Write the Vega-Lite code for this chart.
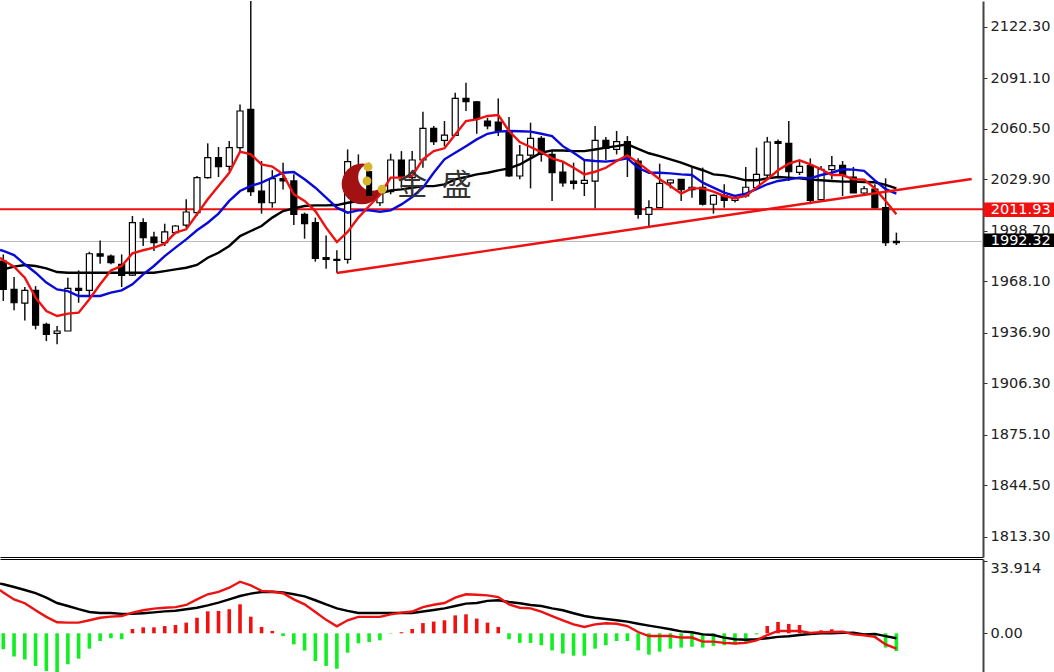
{"$schema":"https://vega.github.io/schema/vega-lite/v6.json","padding":{"left":-5,"top":0,"right":0,"bottom":0},"background":"white","spacing":2,"config":{"view":{"stroke":null},"axis":{"grid":false},"concat":{"spacing":2}},
"datasets":{
"candles":[
{"i":0,"o":1980.5,"h":1984.5,"l":1956.3,"c":1963.3},{"i":1,"o":1963.3,"h":1970.8,"l":1950.6,"c":1955.2},{"i":2,"o":1955.0,"h":1964.7,"l":1944.5,"c":1962.7},{"i":3,"o":1962.7,"h":1965.3,"l":1939.1,"c":1941.7},{"i":4,"o":1942.1,"h":1943.1,"l":1932.0,"c":1936.0},{"i":5,"o":1936.7,"h":1941.1,"l":1930.0,"c":1938.1},{"i":6,"o":1938.1,"h":1970.4,"l":1938.1,"c":1963.9},{"i":7,"o":1963.9,"h":1974.8,"l":1955.2,"c":1962.7},{"i":8,"o":1962.7,"h":1986.1,"l":1958.3,"c":1984.9},{"i":9,"o":1984.9,"h":1993.0,"l":1978.9,"c":1983.5},
{"i":10,"o":1983.5,"h":1984.5,"l":1978.5,"c":1979.5},{"i":11,"o":1978.5,"h":1984.5,"l":1964.7,"c":1971.8},{"i":12,"o":1972.0,"h":2007.8,"l":1971.4,"c":2003.7},{"i":13,"o":2003.7,"h":2006.4,"l":1989.6,"c":1994.6},{"i":14,"o":1995.0,"h":1998.3,"l":1986.6,"c":1991.6},{"i":15,"o":1991.6,"h":2003.1,"l":1989.6,"c":1998.1},{"i":16,"o":1997.7,"h":2002.3,"l":1996.7,"c":2001.7},{"i":17,"o":2002.3,"h":2017.9,"l":2000.7,"c":2010.2},{"i":18,"o":2009.8,"h":2032.0,"l":2007.8,"c":2031.0},{"i":19,"o":2031.0,"h":2051.8,"l":2030.4,"c":2043.1},
{"i":20,"o":2043.1,"h":2049.6,"l":2031.4,"c":2037.7},{"i":21,"o":2037.9,"h":2053.2,"l":2035.0,"c":2049.2},{"i":22,"o":2049.2,"h":2075.4,"l":2047.1,"c":2071.4},{"i":23,"o":2072.4,"h":2138.0,"l":2019.9,"c":2022.5},{"i":24,"o":2022.9,"h":2041.1,"l":2009.2,"c":2015.8},{"i":25,"o":2015.8,"h":2035.6,"l":2012.8,"c":2030.4},{"i":26,"o":2030.4,"h":2040.1,"l":2023.9,"c":2029.0},{"i":27,"o":2029.0,"h":2033.0,"l":2002.3,"c":2008.8},{"i":28,"o":2008.8,"h":2009.8,"l":1994.0,"c":2003.1},{"i":29,"o":2003.7,"h":2006.8,"l":1980.1,"c":1982.1},
{"i":30,"o":1982.5,"h":1996.0,"l":1975.8,"c":1981.5},{"i":31,"o":1981.5,"h":1987.0,"l":1973.4,"c":1980.9},{"i":32,"o":1981.5,"h":2048.1,"l":1978.9,"c":2040.7},{"i":33,"o":2036.4,"h":2045.1,"l":2026.9,"c":2035.0},{"i":34,"o":2035.0,"h":2040.0,"l":2017.9,"c":2019.9},{"i":35,"o":2015.8,"h":2026.9,"l":2013.8,"c":2025.9},{"i":36,"o":2022.5,"h":2045.5,"l":2020.9,"c":2041.7},{"i":37,"o":2041.7,"h":2047.1,"l":2024.9,"c":2031.4},{"i":38,"o":2031.0,"h":2047.1,"l":2028.9,"c":2041.7},{"i":39,"o":2041.7,"h":2071.0,"l":2037.0,"c":2060.9},
{"i":40,"o":2060.9,"h":2062.3,"l":2050.8,"c":2052.8},{"i":41,"o":2053.6,"h":2065.3,"l":2050.1,"c":2056.8},{"i":42,"o":2056.6,"h":2082.5,"l":2056.2,"c":2079.0},{"i":43,"o":2079.0,"h":2088.5,"l":2071.4,"c":2077.0},{"i":44,"o":2077.0,"h":2077.4,"l":2057.6,"c":2066.7},{"i":45,"o":2065.3,"h":2067.3,"l":2060.3,"c":2062.3},{"i":46,"o":2064.7,"h":2079.0,"l":2056.2,"c":2059.3},{"i":47,"o":2059.3,"h":2067.8,"l":2031.4,"c":2032.0},{"i":48,"o":2032.0,"h":2050.8,"l":2030.0,"c":2044.7},{"i":49,"o":2044.7,"h":2064.3,"l":2024.5,"c":2054.8},
{"i":50,"o":2054.8,"h":2056.2,"l":2040.7,"c":2045.1},{"i":51,"o":2045.1,"h":2047.1,"l":2016.8,"c":2034.0},{"i":52,"o":2034.4,"h":2041.1,"l":2025.5,"c":2027.9},{"i":53,"o":2028.9,"h":2040.1,"l":2023.9,"c":2027.5},{"i":54,"o":2027.5,"h":2042.1,"l":2019.9,"c":2029.3},{"i":55,"o":2028.9,"h":2062.3,"l":2012.4,"c":2053.6},{"i":56,"o":2053.6,"h":2055.6,"l":2041.5,"c":2048.8},{"i":57,"o":2048.1,"h":2059.3,"l":2045.1,"c":2052.8},{"i":58,"o":2052.8,"h":2056.2,"l":2031.4,"c":2042.7},{"i":59,"o":2041.1,"h":2042.7,"l":2006.1,"c":2008.8},
{"i":60,"o":2008.8,"h":2017.3,"l":2001.7,"c":2012.8},{"i":61,"o":2012.8,"h":2039.5,"l":2012.8,"c":2027.6},{"i":62,"o":2027.8,"h":2030.0,"l":2024.5,"c":2029.6},{"i":63,"o":2030.0,"h":2030.0,"l":2016.9,"c":2023.7},{"i":64,"o":2023.7,"h":2037.5,"l":2018.9,"c":2025.2},{"i":65,"o":2025.2,"h":2037.1,"l":2014.1,"c":2014.9},{"i":66,"o":2014.9,"h":2020.9,"l":2009.2,"c":2020.3},{"i":67,"o":2020.1,"h":2027.0,"l":2012.8,"c":2017.3},{"i":68,"o":2017.3,"h":2019.9,"l":2015.9,"c":2018.7},{"i":69,"o":2019.9,"h":2037.5,"l":2018.9,"c":2025.2},
{"i":70,"o":2025.0,"h":2049.2,"l":2024.0,"c":2033.0},{"i":71,"o":2032.6,"h":2055.7,"l":2031.0,"c":2052.6},{"i":72,"o":2052.8,"h":2054.2,"l":2032.0,"c":2051.8},{"i":73,"o":2051.8,"h":2065.3,"l":2029.0,"c":2034.6},{"i":74,"o":2034.2,"h":2041.5,"l":2032.6,"c":2037.9},{"i":75,"o":2038.3,"h":2042.7,"l":2014.9,"c":2017.3},{"i":76,"o":2017.7,"h":2038.1,"l":2017.3,"c":2036.1},{"i":77,"o":2035.9,"h":2044.1,"l":2030.0,"c":2038.3},{"i":78,"o":2038.5,"h":2041.1,"l":2019.9,"c":2032.6},{"i":79,"o":2031.4,"h":2037.5,"l":2021.7,"c":2021.7},
{"i":80,"o":2021.7,"h":2026.0,"l":2020.5,"c":2024.3},{"i":81,"o":2024.0,"h":2027.0,"l":2012.4,"c":2012.8},{"i":82,"o":2012.8,"h":2030.6,"l":1989.6,"c":1991.6},{"i":83,"o":1992.4,"h":1997.7,"l":1990.2,"c":1991.6}],
"ma":[
{"i":-0.307,"r":1982.5,"b":1987.2,"k":1974.4},{"i":0,"r":1980.9,"b":1986.6,"k":1975.4},{"i":1,"r":1977.1,"b":1984.1,"k":1977.1},{"i":2,"r":1970.4,"b":1978.5,"k":1978.1},{"i":3,"r":1958.3,"b":1973.4,"k":1977.5},{"i":4,"r":1950.2,"b":1967.4,"k":1976.0},{"i":5,"r":1947.2,"b":1963.3,"k":1973.8},{"i":6,"r":1948.6,"b":1962.3,"k":1973.4},{"i":7,"r":1949.2,"b":1959.3,"k":1973.4},{"i":8,"r":1957.3,"b":1959.3,"k":1973.4},{"i":9,"r":1966.4,"b":1959.3,"k":1973.4},
{"i":10,"r":1974.8,"b":1961.3,"k":1973.4},{"i":11,"r":1977.5,"b":1962.7,"k":1973.4},{"i":12,"r":1985.1,"b":1966.4,"k":1973.4},{"i":13,"r":1987.0,"b":1972.4,"k":1973.4},{"i":14,"r":1988.6,"b":1977.5,"k":1973.4},{"i":15,"r":1991.0,"b":1983.5,"k":1974.4},{"i":16,"r":1997.7,"b":1988.6,"k":1975.4},{"i":17,"r":1999.7,"b":1993.6,"k":1976.4},{"i":18,"r":2008.8,"b":1999.1,"k":1978.1},{"i":19,"r":2017.9,"b":2003.7,"k":1982.5},
{"i":20,"r":2026.0,"b":2009.2,"k":1985.5},{"i":21,"r":2034.0,"b":2016.9,"k":1989.6},{"i":22,"r":2046.8,"b":2022.9,"k":1995.6},{"i":23,"r":2045.1,"b":2026.0,"k":1998.7},{"i":24,"r":2039.1,"b":2028.0,"k":2001.7},{"i":25,"r":2037.7,"b":2031.0,"k":2006.8},{"i":26,"r":2033.0,"b":2034.0,"k":2010.8},{"i":27,"r":2020.9,"b":2034.4,"k":2012.4},{"i":28,"r":2016.9,"b":2030.0,"k":2013.8},{"i":29,"r":2010.8,"b":2024.9,"k":2014.2},
{"i":30,"r":2000.7,"b":2018.9,"k":2014.2},{"i":31,"r":1992.0,"b":2012.8,"k":2014.4},{"i":32,"r":1998.1,"b":2009.8,"k":2015.8},{"i":33,"r":2006.8,"b":2011.2,"k":2016.8},{"i":34,"r":2013.8,"b":2011.2,"k":2018.9},{"i":35,"r":2020.5,"b":2010.4,"k":2021.3},{"i":36,"r":2031.0,"b":2011.2,"k":2023.3},{"i":37,"r":2031.0,"b":2014.8,"k":2023.9},{"i":38,"r":2032.0,"b":2019.3,"k":2024.9},{"i":39,"r":2042.1,"b":2024.9,"k":2025.9},
{"i":40,"r":2047.1,"b":2034.0,"k":2025.9},{"i":41,"r":2048.8,"b":2042.1,"k":2026.9},{"i":42,"r":2057.2,"b":2046.1,"k":2030.0},{"i":43,"r":2065.3,"b":2050.1,"k":2031.4},{"i":44,"r":2066.3,"b":2054.2,"k":2033.0},{"i":45,"r":2068.4,"b":2057.6,"k":2034.0},{"i":46,"r":2069.0,"b":2058.9,"k":2035.4},{"i":47,"r":2059.3,"b":2059.3,"k":2036.6},{"i":48,"r":2052.6,"b":2059.1,"k":2039.0},{"i":49,"r":2049.6,"b":2058.9,"k":2042.7},
{"i":50,"r":2046.5,"b":2057.6,"k":2046.1},{"i":51,"r":2042.7,"b":2056.2,"k":2047.5},{"i":52,"r":2040.7,"b":2050.1,"k":2047.5},{"i":53,"r":2037.0,"b":2046.1,"k":2047.1},{"i":54,"r":2033.0,"b":2041.7,"k":2047.1},{"i":55,"r":2034.6,"b":2041.1,"k":2048.1},{"i":56,"r":2037.0,"b":2040.7,"k":2049.2},{"i":57,"r":2041.1,"b":2041.5,"k":2050.1},{"i":58,"r":2044.5,"b":2042.7,"k":2051.2},{"i":59,"r":2040.1,"b":2037.0,"k":2048.5},
{"i":60,"r":2035.0,"b":2034.0,"k":2045.8},{"i":61,"r":2030.0,"b":2034.0,"k":2044.1},{"i":62,"r":2026.0,"b":2033.6,"k":2042.1},{"i":63,"r":2021.3,"b":2033.0,"k":2040.1},{"i":64,"r":2024.5,"b":2032.6,"k":2037.7},{"i":65,"r":2024.5,"b":2028.0,"k":2035.5},{"i":66,"r":2022.5,"b":2025.0,"k":2033.0},{"i":67,"r":2019.9,"b":2021.9,"k":2032.4},{"i":68,"r":2018.5,"b":2019.9,"k":2031.0},{"i":69,"r":2019.9,"b":2021.3,"k":2029.4},
{"i":70,"r":2025.0,"b":2024.0,"k":2029.4},{"i":71,"r":2030.0,"b":2027.0,"k":2030.6},{"i":72,"r":2035.5,"b":2029.0,"k":2031.4},{"i":73,"r":2039.5,"b":2030.0,"k":2031.0},{"i":74,"r":2041.5,"b":2031.0,"k":2030.6},{"i":75,"r":2039.1,"b":2030.6,"k":2029.8},{"i":76,"r":2036.1,"b":2032.6,"k":2029.4},{"i":77,"r":2032.6,"b":2034.0,"k":2029.0},{"i":78,"r":2032.6,"b":2036.1,"k":2028.6},{"i":79,"r":2030.0,"b":2035.9,"k":2028.6},
{"i":80,"r":2029.8,"b":2035.1,"k":2028.4},{"i":81,"r":2024.5,"b":2029.4,"k":2028.2},{"i":82,"r":2016.9,"b":2024.0,"k":2026.6},{"i":83,"r":2008.8,"b":2021.3,"k":2024.5}],
"hist":[
{"i":0,"h":-7.5},{"i":1,"h":-10.9},{"i":2,"h":-12.3},{"i":3,"h":-15.3},{"i":4,"h":-17.7},{"i":5,"h":-18.6},{"i":6,"h":-14.5},{"i":7,"h":-11.9},{"i":8,"h":-7.2},{"i":9,"h":-3.6},{"i":10,"h":-2.3},{"i":11,"h":-2.8},{"i":12,"h":2.0},{"i":13,"h":2.8},{"i":14,"h":2.8},{"i":15,"h":3.4},{"i":16,"h":3.9},{"i":17,"h":5.0},{"i":18,"h":7.3},{"i":19,"h":10.3},{"i":20,"h":10.5},{"i":21,"h":11.3},{"i":22,"h":13.6},{"i":23,"h":7.8},{"i":24,"h":3.0},{"i":25,"h":1.1},{"i":26,"h":-1.3},{"i":27,"h":-5.2},{"i":28,"h":-8.1},{"i":29,"h":-13.0},{"i":30,"h":-15.3},{"i":31,"h":-16.6},{"i":32,"h":-9.1},{"i":33,"h":-4.7},{"i":34,"h":-4.1},{"i":35,"h":-3.3},{"i":36,"h":-0.2},{"i":37,"h":0.5},{"i":38,"h":2.0},{"i":39,"h":4.8},{"i":40,"h":5.5},{"i":41,"h":6.1},{"i":42,"h":8.4},{"i":43,"h":8.9},{"i":44,"h":6.9},{"i":45,"h":5.0},{"i":46,"h":3.0},{"i":47,"h":-2.8},{"i":48,"h":-4.5},{"i":49,"h":-4.5},{"i":50,"h":-5.6},{"i":51,"h":-8.0},{"i":52,"h":-9.5},{"i":53,"h":-10.5},{"i":54,"h":-10.5},{"i":55,"h":-7.2},{"i":56,"h":-5.6},{"i":57,"h":-3.6},{"i":58,"h":-3.6},{"i":59,"h":-8.0},{"i":60,"h":-10.0},{"i":61,"h":-8.6},{"i":62,"h":-7.2},{"i":63,"h":-6.7},{"i":64,"h":-6.3},{"i":65,"h":-6.7},{"i":66,"h":-5.9},{"i":67,"h":-5.6},{"i":68,"h":-5.2},{"i":69,"h":-4.4},{"i":70,"h":-0.5},{"i":71,"h":3.4},{"i":72,"h":5.3},{"i":73,"h":4.4},{"i":74,"h":3.9},{"i":75,"h":0.6},{"i":76,"h":1.4},{"i":77,"h":1.9},{"i":78,"h":1.1},{"i":79,"h":-0.3},{"i":80,"h":-0.8},{"i":81,"h":-1.7},{"i":82,"h":-6.7},{"i":83,"h":-8.3}],
"macd":[
{"i":-0.307,"r":20.3,"k":23.3},{"i":0,"r":19.1,"k":23.0},{"i":1,"r":15.9,"k":21.7},{"i":2,"r":14.1,"k":20.3},{"i":3,"r":10.8,"k":18.8},{"i":4,"r":7.7,"k":16.7},{"i":5,"r":5.2,"k":14.2},{"i":6,"r":5.0,"k":12.8},{"i":7,"r":5.0,"k":11.3},{"i":8,"r":6.1,"k":10.0},{"i":9,"r":7.3,"k":9.5},{"i":10,"r":7.8,"k":9.5},{"i":11,"r":8.1,"k":9.1},{"i":12,"r":9.7,"k":9.1},{"i":13,"r":10.8,"k":9.4},{"i":14,"r":11.6,"k":9.8},{"i":15,"r":12.0,"k":10.3},{"i":16,"r":12.3,"k":10.6},{"i":17,"r":13.3,"k":11.3},{"i":18,"r":15.9,"k":12.0},{"i":19,"r":18.3,"k":13.1},{"i":20,"r":19.4,"k":14.4},{"i":21,"r":21.4,"k":15.9},{"i":22,"r":24.2,"k":17.5},{"i":23,"r":22.5,"k":18.6},{"i":24,"r":19.9,"k":19.4},{"i":25,"r":19.5,"k":19.5},{"i":26,"r":18.8,"k":19.2},{"i":27,"r":15.9,"k":18.3},{"i":28,"r":13.6,"k":17.3},{"i":29,"r":10.0,"k":15.5},{"i":30,"r":6.3,"k":13.6},{"i":31,"r":3.3,"k":11.7},{"i":32,"r":6.1,"k":10.5},{"i":33,"r":7.7,"k":9.5},{"i":34,"r":7.7,"k":9.5},{"i":35,"r":7.7,"k":9.5},{"i":36,"r":8.9,"k":9.5},{"i":37,"r":9.7,"k":9.5},{"i":38,"r":10.2,"k":9.5},{"i":39,"r":12.3,"k":10.2},{"i":40,"r":13.4,"k":10.9},{"i":41,"r":14.2,"k":11.7},{"i":42,"r":16.7,"k":12.8},{"i":43,"r":18.3,"k":13.9},{"i":44,"r":18.1,"k":14.2},{"i":45,"r":17.8,"k":15.2},{"i":46,"r":17.0,"k":15.5},{"i":47,"r":13.6,"k":14.7},{"i":48,"r":12.0,"k":14.1},{"i":49,"r":11.7,"k":13.3},{"i":50,"r":10.2,"k":12.8},{"i":51,"r":8.1,"k":11.7},{"i":52,"r":6.1,"k":10.8},{"i":53,"r":4.2,"k":9.4},{"i":54,"r":3.0,"k":8.1},{"i":55,"r":4.2,"k":7.3},{"i":56,"r":4.7,"k":6.7},{"i":57,"r":4.5,"k":6.1},{"i":58,"r":3.4,"k":5.5},{"i":59,"r":0.6,"k":4.5},{"i":60,"r":-1.3,"k":3.6},{"i":61,"r":-1.3,"k":2.8},{"i":62,"r":-1.3,"k":1.9},{"i":63,"r":-2.0,"k":0.9},{"i":64,"r":-2.0,"k":0.5},{"i":65,"r":-3.9,"k":-0.5},{"i":66,"r":-3.9,"k":-0.8},{"i":67,"r":-4.5,"k":-2.0},{"i":68,"r":-4.8,"k":-2.8},{"i":69,"r":-4.5,"k":-3.0},{"i":70,"r":-3.3,"k":-2.8},{"i":71,"r":-0.8,"k":-2.3},{"i":72,"r":1.1,"k":-1.7},{"i":73,"r":1.1,"k":-1.4},{"i":74,"r":1.1,"k":-0.8},{"i":75,"r":0.2,"k":-0.3},{"i":76,"r":0.5,"k":0.0},{"i":77,"r":0.6,"k":0.0},{"i":78,"r":0.8,"k":0.2},{"i":79,"r":-0.5,"k":0.3},{"i":80,"r":-0.9,"k":-0.5},{"i":81,"r":-1.7,"k":-0.3},{"i":82,"r":-5.2,"k":-1.3},{"i":83,"r":-7.2,"k":-2.3}]
},
"vconcat":[
{"width":983,"height":556,
"encoding":{"x":{"field":"i","type":"quantitative","scale":{"domain":[-0.307,91.05],"nice":false,"zero":false,"padding":0},"axis":{"orient":"bottom","domain":true,"domainColor":"#000","domainWidth":1,"ticks":false,"labels":false,"title":null,"grid":false}}},
"layer":[
{"data":{"values":[{"p":1992.32}]},"mark":{"type":"rule","color":"#bbbbbb","strokeWidth":1},"encoding":{"x":null,"y":{"field":"p","type":"quantitative","scale":{"domain":[1801.15,2138.05],"nice":false,"zero":false,"padding":0},"axis":{"orient":"right","title":null,"values":[2122.3,2091.1,2060.5,2029.9,1998.7,1968.1,1936.9,1906.3,1875.1,1844.5,1813.3],"format":".2f","domain":true,"domainColor":"#444","domainWidth":2,"tickColor":"#333","tickSize":4,"labelPadding":3,"labelFont":"DejaVu Sans","labelFontSize":14.5,"labelColor":"#222","labelFlush":false}}}},
{"data":{"values":[{"p":2011.93}]},"mark":{"type":"rule","color":"#ee1111","strokeWidth":2},"encoding":{"x":null,"y":{"field":"p","type":"quantitative"}}},
{"data":{"name":"candles"},"mark":{"type":"rule","color":"#111","strokeWidth":1.5},"encoding":{"y":{"field":"h","type":"quantitative"},"y2":{"field":"l"}}},
{"data":{"name":"candles"},"mark":{"type":"bar","size":6,"orient":"vertical","stroke":"#000","strokeWidth":1.2},"encoding":{"y":{"field":"o","type":"quantitative"},"y2":{"field":"c"},"fill":{"condition":{"test":"datum.c>=datum.o","value":"#ffffff"},"value":"#000000"}}},
{"data":{"name":"ma"},"mark":{"type":"line","color":"#000","strokeWidth":2.4},"encoding":{"y":{"field":"k","type":"quantitative"}}},
{"data":{"name":"ma"},"mark":{"type":"line","color":"#0a0ad8","strokeWidth":2.4},"encoding":{"y":{"field":"b","type":"quantitative"}}},
{"data":{"name":"ma"},"mark":{"type":"line","color":"#ee1111","strokeWidth":2.4},"encoding":{"y":{"field":"r","type":"quantitative"}}},
{"data":{"values":[{"i":31,"p":1973.2},{"i":90,"p":2030.2}]},"mark":{"type":"line","color":"#ee1111","strokeWidth":2.4},"encoding":{"y":{"field":"p","type":"quantitative"}}},
{"data":{"values":[{"i":33.34,"p":2027.2}]},"mark":{"type":"point","filled":true,"opacity":1,"color":"#a31212","size":1660},"encoding":{"y":{"field":"p","type":"quantitative"}}},
{"data":{"values":[{"i":34.26,"p":2031.4}]},"mark":{"type":"point","filled":true,"opacity":1,"color":"#ffffff","size":760},"encoding":{"y":{"field":"p","type":"quantitative"}}},
{"data":{"name":"candles"},"transform":[{"filter":"datum.i==34"}],"mark":{"type":"bar","size":6,"orient":"vertical","color":"#000"},"encoding":{"y":{"field":"o","type":"quantitative"},"y2":{"field":"c"}}},
{"data":{"values":[{"i":33.8,"p":2029.0},{"i":33.9,"p":2037.5},{"i":35.2,"p":2024.0}]},"mark":{"type":"point","filled":true,"opacity":1,"color":"#d8b52a","size":80},"encoding":{"y":{"field":"p","type":"quantitative"}}},
{"data":{"values":[{"i":38,"p":2026,"t":"金"},{"i":42.15,"p":2026,"t":"盛"}]},"mark":{"type":"text","font":"Noto Sans CJK SC","fontSize":30,"color":"#333333"},"encoding":{"y":{"field":"p","type":"quantitative"},"text":{"field":"t"}}},
{"data":{"values":[{"i":91.1,"i2":97.7,"p":2015.9,"p2":2007.2,"f":"red"},{"i":91.1,"i2":97.7,"p":1997.1,"p2":1989.0,"f":"black"}]},"mark":{"type":"rect"},"encoding":{"x2":{"field":"i2"},"y":{"field":"p","type":"quantitative"},"y2":{"field":"p2"},"fill":{"condition":{"test":"datum.f=='red'","value":"#f01010"},"value":"#000000"}}},
{"data":{"values":[{"i":94.55,"p":2011.6,"t":"2011.93"},{"i":94.55,"p":1992.6,"t":"1992.32"}]},"mark":{"type":"text","font":"DejaVu Sans","fontSize":14.5,"color":"#ffffff"},"encoding":{"y":{"field":"p","type":"quantitative"},"text":{"field":"t"}}}
]},
{"width":983,"height":114,
"encoding":{"x":{"field":"i","type":"quantitative","scale":{"domain":[-0.307,91.05],"nice":false,"zero":false,"padding":0},"axis":{"orient":"top","domain":true,"domainColor":"#000","domainWidth":1,"ticks":false,"labels":false,"title":null,"grid":false}}},
"layer":[
{"data":{"name":"hist"},"mark":{"type":"bar","size":3.6,"orient":"vertical"},"encoding":{"y":{"field":"h","type":"quantitative","stack":null,"scale":{"domain":[-18.62,34.85],"nice":false,"zero":false,"padding":0},"axis":{"orient":"right","title":null,"values":[33.914,0],"labelExpr":"datum.value>30?'33.914':'0.00'","domain":true,"domainColor":"#444","domainWidth":2,"tickColor":"#333","tickSize":4,"labelPadding":3,"labelFont":"DejaVu Sans","labelFontSize":14.5,"labelColor":"#222","labelOffset":{"condition":{"test":"datum.value>30","value":8},"value":0}}},"color":{"condition":{"test":"datum.h>0","value":"#ee1111"},"value":"#11ee22"}}},
{"data":{"name":"macd"},"mark":{"type":"line","color":"#000","strokeWidth":2.4},"encoding":{"y":{"field":"k","type":"quantitative"}}},
{"data":{"name":"macd"},"mark":{"type":"line","color":"#ee1111","strokeWidth":2.4},"encoding":{"y":{"field":"r","type":"quantitative"}}}
]}
]}
